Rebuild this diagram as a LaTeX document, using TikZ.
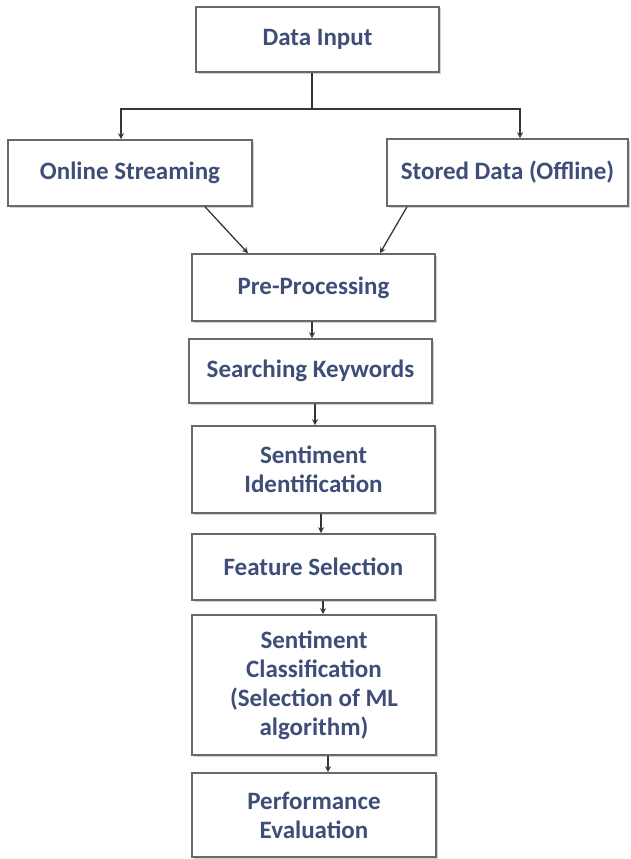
\documentclass[tikz,border=0pt]{standalone}
\usepackage{fontspec}
\setmainfont{Carlito}
\usetikzlibrary{arrows.meta,shadows}
\definecolor{txtblue}{RGB}{62,78,120}
\definecolor{boxgray}{RGB}{105,105,105}
\definecolor{arrgray}{RGB}{55,55,55}
\begin{document}
\begin{tikzpicture}[x=1pt,y=-1pt,
  stepbox/.style={draw=boxgray, line width=1.6pt, fill=white, rectangle,
    minimum width=243pt, inner sep=2pt, align=center, text=txtblue,
    font=\fontsize{25}{29}\selectfont\bfseries,
    drop shadow={shadow xshift=1.5pt, shadow yshift=-1.5pt, opacity=0.35, fill=gray}},
  arr/.style={draw=arrgray, line width=1.3pt, -{Stealth[length=6pt,width=6pt]}},
  ln/.style={draw=arrgray, line width=1.3pt}]
\useasboundingbox[fill=white] (0,0) rectangle (630,859);
\node[stepbox, minimum height=65pt] (di) at (317.5,39.5) {Data Input};
\node[stepbox, minimum width=244pt, minimum height=66pt] (os) at (130,173) {Online Streaming};
\node[stepbox, minimum width=241pt, minimum height=67pt] (sd) at (507.5,172.5) {Stored Data (Offline)};
\node[stepbox, minimum height=67pt] (pp) at (313.5,287.5) {Pre-Processing};
\node[stepbox, minimum height=64pt] (sk) at (310.5,371) {Searching Keywords};
\node[stepbox, minimum height=87pt] (si) at (313.5,469.5) {Sentiment\\Identification};
\node[stepbox, minimum height=66pt] (fs) at (313.5,567) {Feature Selection};
\node[stepbox, minimum width=244pt, minimum height=140pt] (sc) at (314,685) {Sentiment\\Classification\\(Selection of ML\\algorithm)};
\node[stepbox, minimum width=244pt, minimum height=84pt] (pe) at (314,815) {Performance\\Evaluation};
\coordinate (j) at (312,109);
\draw[ln] (di.south -| j) -- (j);
\draw[arr] (j) -| ([xshift=-9pt]os.north);
\draw[arr] (j) -| ([xshift=12.5pt]sd.north);
\draw[arr] ([xshift=75pt]os.south) -- ([xshift=-65.5pt]pp.north);
\draw[arr] ([xshift=-100.5pt]sd.south) -- ([xshift=66.5pt]pp.north);
\draw[arr] ([xshift=-1.5pt]pp.south) -- ([xshift=-1.5pt]pp.south |- sk.north);
\draw[arr] ([xshift=4.5pt]sk.south) -- ([xshift=4.5pt]sk.south |- si.north);
\draw[arr] ([xshift=7.5pt]si.south) -- ([xshift=7.5pt]si.south |- fs.north);
\draw[arr] ([xshift=9.5pt]fs.south) -- ([xshift=9.5pt]fs.south |- sc.north);
\draw[arr] ([xshift=14pt]sc.south) -- ([xshift=14pt]sc.south |- pe.north);
\end{tikzpicture}
\end{document}
